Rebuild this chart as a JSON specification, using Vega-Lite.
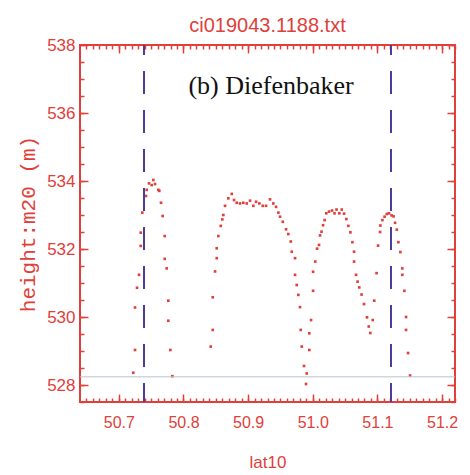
{
  "$schema": "https://vega.github.io/schema/vega-lite/v6.json",
  "width": 375,
  "height": 357,
  "autosize": {"type": "none"},
  "padding": {"left": 80, "top": 45, "right": 15, "bottom": 73},
  "background": "white",
  "title": {"text": "ci019043.1188.txt", "color": "#e0403a", "fontSize": 20, "font": "Liberation Sans", "fontWeight": "normal", "anchor": "middle", "baseline": "alphabetic", "offset": 13, "dy": 29},
  "config": {
    "view": {"stroke": "#e0403a", "strokeWidth": 2},
    "axis": {"grid": false, "domain": false, "minExtent": 0, "tickColor": "#e0403a", "labelColor": "#e0403a", "titleColor": "#e0403a", "labelFont": "Liberation Sans", "titleFont": "Liberation Sans", "titleFontWeight": "normal", "tickWidth": 1.5}
  },
  "resolve": {"axis": {"x": "independent", "y": "independent"}},
  "layer": [
    {
      "data": {"values": [
        {"lat": 50.7224, "h": 528.36}, {"lat": 50.7251, "h": 529.03}, {"lat": 50.7251, "h": 530.28}, {"lat": 50.7282, "h": 530.86},
        {"lat": 50.7313, "h": 531.24}, {"lat": 50.7339, "h": 532.09}, {"lat": 50.7339, "h": 532.48}, {"lat": 50.7364, "h": 533.07},
        {"lat": 50.7421, "h": 533.56}, {"lat": 50.7432, "h": 533.74}, {"lat": 50.7467, "h": 533.93}, {"lat": 50.7509, "h": 533.88},
        {"lat": 50.7534, "h": 534.03}, {"lat": 50.7560, "h": 533.91}, {"lat": 50.7611, "h": 533.74}, {"lat": 50.7627, "h": 533.71},
        {"lat": 50.7653, "h": 533.36}, {"lat": 50.7679, "h": 532.97}, {"lat": 50.7710, "h": 532.38}, {"lat": 50.7710, "h": 531.71},
        {"lat": 50.7741, "h": 531.43}, {"lat": 50.7766, "h": 530.48}, {"lat": 50.7766, "h": 529.89}, {"lat": 50.7797, "h": 529.03},
        {"lat": 50.7828, "h": 528.26},
        {"lat": 50.8422, "h": 529.13}, {"lat": 50.8453, "h": 529.62}, {"lat": 50.8453, "h": 530.58}, {"lat": 50.8489, "h": 531.34},
        {"lat": 50.8515, "h": 531.73}, {"lat": 50.8515, "h": 532.02}, {"lat": 50.8540, "h": 532.38}, {"lat": 50.8577, "h": 532.68},
        {"lat": 50.8601, "h": 532.87}, {"lat": 50.8617, "h": 533.00}, {"lat": 50.8643, "h": 533.27}, {"lat": 50.8694, "h": 533.49},
        {"lat": 50.8747, "h": 533.62}, {"lat": 50.8782, "h": 533.44}, {"lat": 50.8824, "h": 533.36}, {"lat": 50.8875, "h": 533.34},
        {"lat": 50.8926, "h": 533.36}, {"lat": 50.8979, "h": 533.34}, {"lat": 50.9030, "h": 533.42}, {"lat": 50.9081, "h": 533.27},
        {"lat": 50.9123, "h": 533.39}, {"lat": 50.9174, "h": 533.34}, {"lat": 50.9226, "h": 533.27}, {"lat": 50.9277, "h": 533.27},
        {"lat": 50.9339, "h": 533.46}, {"lat": 50.9390, "h": 533.34}, {"lat": 50.9432, "h": 533.24}, {"lat": 50.9468, "h": 533.07},
        {"lat": 50.9494, "h": 532.95}, {"lat": 50.9536, "h": 532.80}, {"lat": 50.9587, "h": 532.58}, {"lat": 50.9622, "h": 532.44},
        {"lat": 50.9660, "h": 532.22}, {"lat": 50.9675, "h": 531.92}, {"lat": 50.9726, "h": 531.73}, {"lat": 50.9726, "h": 531.24},
        {"lat": 50.9752, "h": 530.94}, {"lat": 50.9777, "h": 530.65}, {"lat": 50.9803, "h": 530.29}, {"lat": 50.9814, "h": 529.62},
        {"lat": 50.9830, "h": 529.13}, {"lat": 50.9865, "h": 528.56}, {"lat": 50.9907, "h": 528.34}, {"lat": 50.9896, "h": 528.03},
        {"lat": 50.9947, "h": 529.03}, {"lat": 50.9947, "h": 529.52}, {"lat": 50.9974, "h": 529.91}, {"lat": 51.0005, "h": 530.77},
        {"lat": 51.0005, "h": 531.33}, {"lat": 51.0039, "h": 531.63}, {"lat": 51.0067, "h": 532.01}, {"lat": 51.0097, "h": 532.12},
        {"lat": 51.0113, "h": 532.40}, {"lat": 51.0136, "h": 532.51}, {"lat": 51.0159, "h": 532.70}, {"lat": 51.0183, "h": 532.85},
        {"lat": 51.0210, "h": 533.05}, {"lat": 51.0252, "h": 533.10}, {"lat": 51.0298, "h": 533.13}, {"lat": 51.0337, "h": 533.05},
        {"lat": 51.0368, "h": 533.16}, {"lat": 51.0411, "h": 533.05}, {"lat": 51.0448, "h": 533.16}, {"lat": 51.0484, "h": 533.04},
        {"lat": 51.0520, "h": 532.88}, {"lat": 51.0551, "h": 532.68}, {"lat": 51.0582, "h": 532.49}, {"lat": 51.0613, "h": 532.20},
        {"lat": 51.0639, "h": 531.92}, {"lat": 51.0639, "h": 531.63}, {"lat": 51.0670, "h": 531.24}, {"lat": 51.0693, "h": 531.04},
        {"lat": 51.0719, "h": 530.87}, {"lat": 51.0755, "h": 530.66}, {"lat": 51.0793, "h": 530.38}, {"lat": 51.0839, "h": 529.99},
        {"lat": 51.0866, "h": 529.72}, {"lat": 51.0890, "h": 529.53},
        {"lat": 51.0928, "h": 529.91}, {"lat": 51.0951, "h": 530.48}, {"lat": 51.0987, "h": 531.29}, {"lat": 51.1010, "h": 532.10},
        {"lat": 51.1041, "h": 532.50}, {"lat": 51.1046, "h": 532.69}, {"lat": 51.1077, "h": 532.85}, {"lat": 51.1111, "h": 532.95},
        {"lat": 51.1146, "h": 533.03}, {"lat": 51.1180, "h": 533.05}, {"lat": 51.1219, "h": 532.99}, {"lat": 51.1250, "h": 532.96},
        {"lat": 51.1273, "h": 532.77}, {"lat": 51.1300, "h": 532.57}, {"lat": 51.1324, "h": 532.20}, {"lat": 51.1355, "h": 531.91},
        {"lat": 51.1385, "h": 531.43}, {"lat": 51.1385, "h": 531.24}, {"lat": 51.1417, "h": 530.77}, {"lat": 51.1443, "h": 530.00},
        {"lat": 51.1443, "h": 529.62}, {"lat": 51.1474, "h": 528.94}, {"lat": 51.1505, "h": 528.28}
      ]},
      "mark": {"type": "point", "filled": true, "shape": "square", "size": 7, "color": "#e0403a", "opacity": 1},
      "encoding": {
        "x": {"field": "lat", "type": "quantitative", "scale": {"domain": [50.64, 51.22], "nice": false, "zero": false},
          "axis": {"orient": "bottom", "values": [50.7, 50.8, 50.9, 51.0, 51.1, 51.2], "format": ".1f", "tickSize": -8, "labelFontSize": 16, "labelPadding": 20, "title": "lat10", "titleFontSize": 17, "titlePadding": 24}},
        "y": {"field": "h", "type": "quantitative", "scale": {"domain": [527.5, 538], "nice": false, "zero": false},
          "axis": {"orient": "left", "values": [528, 530, 532, 534, 536, 538], "tickSize": -8, "labelFontSize": 17, "labelPadding": 13, "title": "height:m20 (m)", "titleFont": "Liberation Mono", "titleFontSize": 21, "titlePadding": 8}}
      }
    },
    {
      "data": {"values": [{"lat": 50.739}, {"lat": 51.121}]},
      "mark": {"type": "rule", "color": "#4b3c9c", "strokeWidth": 2, "strokeDash": [23, 16], "strokeDashOffset": 4},
      "encoding": {
        "x": {"field": "lat", "type": "quantitative", "scale": {"domain": [50.64, 51.22], "nice": false, "zero": false},
          "axis": {"orient": "bottom", "values": [50.65,50.66,50.67,50.68,50.69,50.7,50.71,50.72,50.73,50.74,50.75,50.76,50.77,50.78,50.79,50.8,50.81,50.82,50.83,50.84,50.85,50.86,50.87,50.88,50.89,50.9,50.91,50.92,50.93,50.94,50.95,50.96,50.97,50.98,50.99,51.0,51.01,51.02,51.03,51.04,51.05,51.06,51.07,51.08,51.09,51.1,51.11,51.12,51.13,51.14,51.15,51.16,51.17,51.18,51.19,51.2,51.21,51.22], "tickSize": -4, "labels": false, "title": null}},
        "y": {"datum": 527.5, "type": "quantitative", "scale": {"domain": [527.5, 538], "nice": false, "zero": false},
          "axis": {"orient": "left", "values": [527.5,528,528.5,529,529.5,530,530.5,531,531.5,532,532.5,533,533.5,534,534.5,535,535.5,536,536.5,537,537.5,538], "tickSize": -4, "labels": false, "title": null}},
        "y2": {"datum": 538}
      }
    },
    {
      "data": {"values": [{"lat": 50.9355, "h": 536.56, "label": "(b) Diefenbaker"}]},
      "mark": {"type": "text", "font": "Liberation Serif", "fontSize": 26, "color": "#111111", "align": "center", "baseline": "alphabetic"},
      "encoding": {
        "x": {"field": "lat", "type": "quantitative", "scale": {"domain": [50.64, 51.22], "nice": false, "zero": false},
          "axis": {"orient": "top", "values": [50.7, 50.8, 50.9, 51.0, 51.1, 51.2], "tickSize": -8, "labels": false, "title": null}},
        "y": {"field": "h", "type": "quantitative", "scale": {"domain": [527.5, 538], "nice": false, "zero": false},
          "axis": {"orient": "right", "values": [528, 530, 532, 534, 536, 538], "tickSize": -8, "labels": false, "title": null}},
        "text": {"field": "label"}
      }
    },
    {
      "data": {"values": [{"h": 528.24}]},
      "mark": {"type": "rule", "color": "#b8c4cc", "strokeWidth": 1},
      "encoding": {
        "x": {"datum": 50.64, "type": "quantitative", "scale": {"domain": [50.64, 51.22], "nice": false, "zero": false},
          "axis": {"orient": "top", "values": [50.65,50.66,50.67,50.68,50.69,50.7,50.71,50.72,50.73,50.74,50.75,50.76,50.77,50.78,50.79,50.8,50.81,50.82,50.83,50.84,50.85,50.86,50.87,50.88,50.89,50.9,50.91,50.92,50.93,50.94,50.95,50.96,50.97,50.98,50.99,51.0,51.01,51.02,51.03,51.04,51.05,51.06,51.07,51.08,51.09,51.1,51.11,51.12,51.13,51.14,51.15,51.16,51.17,51.18,51.19,51.2,51.21,51.22], "tickSize": -4, "labels": false, "title": null}},
        "x2": {"datum": 51.22},
        "y": {"field": "h", "type": "quantitative", "scale": {"domain": [527.5, 538], "nice": false, "zero": false},
          "axis": {"orient": "right", "values": [527.5,528,528.5,529,529.5,530,530.5,531,531.5,532,532.5,533,533.5,534,534.5,535,535.5,536,536.5,537,537.5,538], "tickSize": -4, "labels": false, "title": null}}
      }
    }
  ]
}
